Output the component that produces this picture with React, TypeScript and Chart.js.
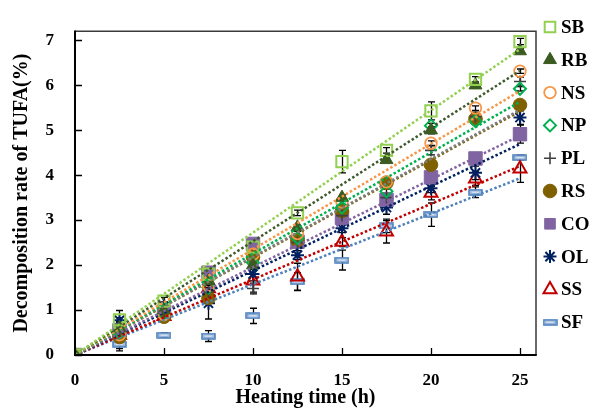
import React, { useEffect, useRef } from 'react';
import { Chart, registerables } from 'chart.js';
import { drawPoint } from 'chart.js/helpers';

Chart.register(...registerables);

// ---------- data ----------
const HOURS = [0, 2.5, 5, 7.5, 10, 12.5, 15, 17.5, 20, 22.5, 25];
const SERIES_NAMES = ['SB', 'RB', 'NS', 'NP', 'PL', 'RS', 'CO', 'OL', 'SS', 'SF'];

const SB = [0, 0.78, 1.2, 1.8, 2.4, 3.16, 4.3, 4.55, 5.43, 6.13, 6.97];
const RB = [0, 0.6, 1.0, 1.65, 2.0, 2.84, 3.5, 4.34, 5.0, 6.0, 6.76];
const NS = [0, 0.45, 0.9, 1.55, 2.24, 2.7, 3.4, 3.85, 4.71, 5.49, 6.31];
const NP = [0, 0.5, 0.9, 1.5, 2.05, 2.6, 3.28, 3.64, 5.1, 5.2, 5.92];
const PL = [0, 0.5, 0.95, 1.4, 1.48, 2.5, 3.1, 3.5, 4.55, 5.3, 6.08];
const RS = [0, 0.4, 0.85, 1.27, 2.18, 2.55, 3.2, 3.83, 4.23, 5.25, 5.56];
const CO = [0, 0.55, 0.96, 1.83, 2.47, 2.52, 3.05, 3.45, 3.95, 4.37, 4.91];
const OL = [0, 0.77, 1.08, 1.15, 1.8, 2.22, 2.82, 3.28, 3.71, 4.05, 5.28];
const SS = [0, 0.44, 0.86, 1.48, 1.65, 1.74, 2.51, 2.74, 3.6, 3.92, 4.14];
const SF = [0, 0.24, 0.44, 0.42, 0.87, 1.63, 2.11, 2.87, 3.12, 3.62, 4.39];

const SB_ERR = [0, 0.05, 0.08, 0.05, 0.05, 0.06, 0.25, 0.06, 0.2, 0.06, 0.07];
const RB_ERR = [0, 0.05, 0.05, 0.05, 0.05, 0.05, 0.06, 0.05, 0.08, 0.05, 0.05];
const NS_ERR = [0, 0.05, 0.05, 0.05, 0.05, 0.05, 0.05, 0.05, 0.05, 0.05, 0.05];
const NP_ERR = [0, 0.05, 0.05, 0.05, 0.05, 0.05, 0.05, 0.05, 0.05, 0.05, 0.05];
const PL_ERR = [0, 0.1, 0.1, 0.1, 0.12, 0.1, 0.1, 0.1, 0.1, 0.1, 0.1];
const RS_ERR = [0, 0.05, 0.05, 0.05, 0.05, 0.05, 0.05, 0.05, 0.05, 0.05, 0.05];
const CO_ERR = [0, 0.05, 0.05, 0.05, 0.05, 0.08, 0.08, 0.1, 0.1, 0.1, 0.2];
const OL_ERR = [0, 0.22, 0.1, 0.35, 0.15, 0.1, 0.1, 0.15, 0.1, 0.15, 0.15];
const SS_ERR = [0, 0.3, 0.1, 0.1, 0.25, 0.3, 0.1, 0.25, 0.15, 0.15, 0.3];
const SF_ERR = [0, 0.15, 0.05, 0.12, 0.17, 0.2, 0.22, 0.15, 0.26, 0.12, 0.05];

// linear trend value at 25 h (trend lines start at origin)
const TREND_END = [6.8, 6.32, 5.87, 5.63, 5.45, 5.42, 4.88, 4.69, 4.2, 3.93];

const X_TICKS = [0, 5, 10, 15, 20, 25];
const Y_TICKS = [0, 1, 2, 3, 4, 5, 6, 7];

const VALUES = [SB, RB, NS, NP, PL, RS, CO, OL, SS, SF];
const ERRORS = [SB_ERR, RB_ERR, NS_ERR, NP_ERR, PL_ERR, RS_ERR, CO_ERR, OL_ERR, SS_ERR, SF_ERR];

// ---------- styles ----------
const FONT = "'Liberation Serif', 'Times New Roman', Times, serif";

function makeDashImage(): HTMLCanvasElement {
  const c = document.createElement('canvas');
  c.width = 15;
  c.height = 7;
  const g = c.getContext('2d')!;
  g.fillStyle = '#A7C0E0';
  g.strokeStyle = '#4F81BD';
  g.lineWidth = 1.6;
  g.fillRect(1, 1, 13, 5);
  g.strokeRect(1, 1, 13, 5);
  g.strokeStyle = 'rgba(255,255,255,0.8)';
  g.lineWidth = 0.8;
  g.beginPath();
  g.moveTo(4, 3.5);
  g.lineTo(11, 3.5);
  g.stroke();
  return c;
}

type MStyle = {
  pointStyle: any;
  radius: number;
  border: string;
  fill: string;
  borderWidth: number;
  line: string;
};

function getStyles(): MStyle[] {
  const dash = makeDashImage();
  return [
    { pointStyle: 'rect', radius: 8, border: '#92D050', fill: 'rgba(255,255,255,0)', borderWidth: 2, line: '#92D050' },
    { pointStyle: 'triangle', radius: 7.5, border: '#3B5B22', fill: '#3B5B22', borderWidth: 1, line: '#3E5A2A' },
    { pointStyle: 'circle', radius: 5.8, border: '#F79646', fill: 'rgba(255,255,255,0)', borderWidth: 1.8, line: '#F79646' },
    { pointStyle: 'rectRot', radius: 6, border: '#00B050', fill: 'rgba(255,255,255,0)', borderWidth: 2, line: '#00B050' },
    { pointStyle: 'cross', radius: 6, border: '#404040', fill: '#404040', borderWidth: 1.6, line: '#7F7F7F' },
    { pointStyle: 'circle', radius: 6.8, border: '#7F6000', fill: '#7F6000', borderWidth: 1, line: '#7F6000' },
    { pointStyle: 'rect', radius: 9.5, border: '#8064A2', fill: '#8064A2', borderWidth: 1, line: '#8064A2' },
    { pointStyle: 'star', radius: 6.5, border: '#002060', fill: '#002060', borderWidth: 2, line: '#002060' },
    { pointStyle: 'triangle', radius: 7.5, border: '#C00000', fill: 'rgba(255,255,255,0)', borderWidth: 2, line: '#C00000' },
    { pointStyle: dash, radius: 7, border: '#4F81BD', fill: '#A7C0E0', borderWidth: 1, line: '#4F81BD' },
  ];
}

export default function App() {
  const ref = useRef<HTMLCanvasElement | null>(null);

  useEffect(() => {
    if (!ref.current) return;
    const styles = getStyles();
    const n = SERIES_NAMES.length;

    const datasets: any[] = [];
    for (let k = 0; k < n; k++) {
      datasets.push({
        type: 'line',
        label: SERIES_NAMES[k] + ' trend',
        data: [
          { x: 0, y: 0 },
          { x: 25, y: TREND_END[k] },
        ],
        borderColor: styles[k].line,
        borderWidth: 2.5,
        borderDash: [2.5, 2.2],
        pointRadius: 0,
        fill: false,
        order: 1,
      });
    }
    for (let k = 0; k < n; k++) {
      datasets.push({
        type: 'scatter',
        label: SERIES_NAMES[k],
        data: HOURS.map((h, i) => ({ x: h, y: VALUES[k][i] })),
        pointStyle: styles[k].pointStyle,
        pointRadius: styles[k].radius,
        pointBorderColor: styles[k].border,
        pointBackgroundColor: styles[k].fill,
        pointBorderWidth: styles[k].borderWidth,
        showLine: false,
        order: 2,
        errs: ERRORS[k],
      });
    }

    const decor = {
      id: 'decor',
      beforeDatasetsDraw(chart: any) {
        const ctx = chart.ctx;
        const xs = chart.scales.x;
        const ys = chart.scales.y;
        // error bars (under markers)
        ctx.save();
        ctx.strokeStyle = '#000';
        ctx.lineWidth = 1.3;
        chart.data.datasets.forEach((ds: any) => {
          if (!ds.errs) return;
          ds.data.forEach((p: any, i: number) => {
            const e = ds.errs[i];
            if (!e) return;
            const px = Math.round(xs.getPixelForValue(p.x)) + 0.5;
            const y1 = ys.getPixelForValue(p.y + e);
            const y2 = ys.getPixelForValue(p.y - e);
            ctx.beginPath();
            ctx.moveTo(px, y1);
            ctx.lineTo(px, y2);
            ctx.moveTo(px - 3.5, y1);
            ctx.lineTo(px + 3.5, y1);
            ctx.moveTo(px - 3.5, y2);
            ctx.lineTo(px + 3.5, y2);
            ctx.stroke();
          });
        });
        ctx.restore();
      },
      afterDraw(chart: any) {
        const ctx = chart.ctx;
        const { left, right, top, bottom } = chart.chartArea;
        const xs = chart.scales.x;
        const ys = chart.scales.y;
        ctx.save();
        // frame top/right
        ctx.strokeStyle = '#3a3a3a';
        ctx.lineWidth = 1.5;
        ctx.beginPath();
        ctx.moveTo(left, top);
        ctx.lineTo(right, top);
        ctx.lineTo(right, bottom);
        ctx.stroke();
        // axes
        ctx.strokeStyle = '#000';
        ctx.lineWidth = 2;
        ctx.beginPath();
        ctx.moveTo(left, top - 0.75);
        ctx.lineTo(left, bottom);
        ctx.lineTo(right + 0.75, bottom);
        ctx.stroke();
        // inward ticks
        ctx.lineWidth = 1.3;
        ctx.beginPath();
        Y_TICKS.forEach((v) => {
          const py = Math.round(ys.getPixelForValue(v)) + 0.5;
          ctx.moveTo(left, py);
          ctx.lineTo(left + 7, py);
        });
        X_TICKS.forEach((v) => {
          const px = Math.round(xs.getPixelForValue(v)) + 0.5;
          ctx.moveTo(px, bottom);
          ctx.lineTo(px, bottom - 7);
        });
        ctx.stroke();

        // legend
        const lx = 550;
        const tx = 561;
        const y0 = 27;
        const step = 32.8;
        ctx.font = `bold 19px ${FONT}`;
        ctx.textBaseline = 'middle';
        ctx.textAlign = 'left';
        for (let k = 0; k < n; k++) {
          const s = styles[k];
          const cy = y0 + k * step;
          ctx.fillStyle = s.fill;
          ctx.strokeStyle = s.border;
          ctx.lineWidth = s.borderWidth;
          const r = s.pointStyle === 'rect' ? 7.5 : s.radius;
          drawPoint(ctx, { pointStyle: s.pointStyle, radius: r, borderWidth: s.borderWidth, rotation: 0 } as any, lx, cy);
          ctx.fillStyle = '#000';
          ctx.fillText(SERIES_NAMES[k], tx, cy + 1);
        }
        ctx.restore();
      },
    };

    const chart = new Chart(ref.current, {
      type: 'scatter',
      data: { datasets },
      options: {
        responsive: false,
        animation: false,
        layout: { padding: { top: 9, right: 59, left: 0, bottom: 0 } },
        plugins: {
          legend: { display: false },
          tooltip: { enabled: false },
        },
        scales: {
          x: {
            type: 'linear',
            min: 0,
            max: 25.9,
            grid: { display: false, drawTicks: false },
            border: { display: false },
            afterBuildTicks: (scale: any) => {
              scale.ticks = X_TICKS.map((v) => ({ value: v }));
            },
            afterFit: (scale: any) => {
              scale.height = 57;
            },
            ticks: {
              padding: 15,
              color: '#000',
              font: { family: FONT, size: 17, weight: 'bold' },
            },
            title: {
              display: true,
              text: 'Heating time (h)',
              color: '#000',
              font: { family: FONT, size: 20, weight: 'bold' },
              padding: { top: 0, bottom: 2 },
            },
          },
          y: {
            type: 'linear',
            min: 0,
            max: 7.2,
            grid: { display: false, drawTicks: false },
            border: { display: false },
            afterBuildTicks: (scale: any) => {
              scale.ticks = Y_TICKS.map((v) => ({ value: v }));
            },
            afterFit: (scale: any) => {
              scale.width = 75;
            },
            ticks: {
              padding: 21,
              color: '#000',
              font: { family: FONT, size: 17, weight: 'bold' },
            },
            title: {
              display: true,
              text: 'Decomposition rate of TUFA(%)',
              color: '#000',
              font: { family: FONT, size: 20, weight: 'bold' },
              padding: { top: 10, bottom: 0 },
            },
          },
        },
      } as any,
      plugins: [decor],
    });

    return () => chart.destroy();
  }, []);

  return (
    <div style={{ position: 'absolute', left: 0, top: 0, width: 595, height: 412, background: '#fff' }}>
      <canvas ref={ref} width={595} height={412} style={{ display: 'block', width: 595, height: 412 }} />
    </div>
  );
}
